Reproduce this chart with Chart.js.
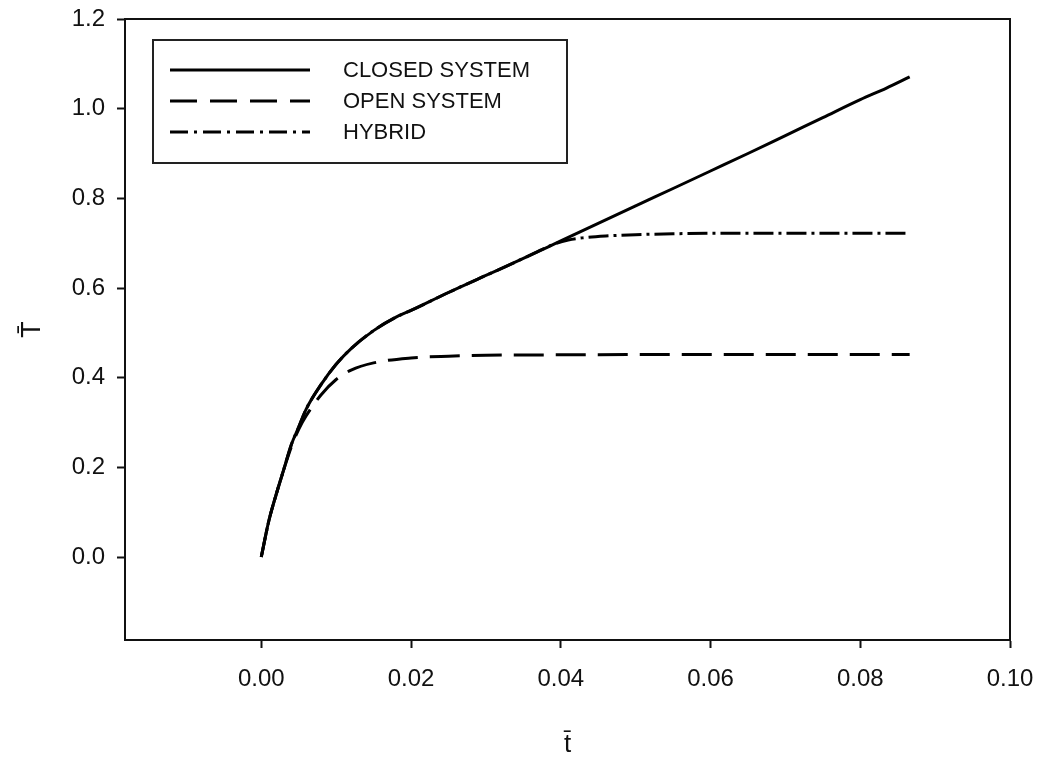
<!DOCTYPE html>
<html lang="en">
<head>
  <meta charset="UTF-8" />
  <title>T vs t</title>
  <script src="https://cdn.jsdelivr.net/npm/chart.js"></script>
  <style>
    html, body { margin: 0; padding: 0; background: #fff; }
    #wrap { width: 1037px; height: 772px; }
  </style>
</head>
<body>
  <div id="wrap"><canvas id="chart" width="1037" height="772"></canvas></div>
  <script>
    // valeurs
    const closedT = [0, 0.001, 0.002, 0.003, 0.004, 0.005, 0.006, 0.008, 0.010, 0.012, 0.015, 0.018, 0.020, 0.025, 0.030, 0.035, 0.040, 0.045, 0.050, 0.055, 0.060, 0.065, 0.070, 0.075, 0.080, 0.0835, 0.0866];
    const closedY = [0, 0.08, 0.14, 0.195, 0.25, 0.29, 0.33, 0.385, 0.43, 0.465, 0.505, 0.535, 0.55, 0.59, 0.628, 0.666, 0.705, 0.744, 0.783, 0.822, 0.861, 0.90, 0.94, 0.98, 1.02, 1.046, 1.071];

    const openT = [0, 0.001, 0.002, 0.003, 0.004, 0.005, 0.006, 0.008, 0.010, 0.012, 0.015, 0.020, 0.025, 0.030, 0.040, 0.060, 0.0866];
    const openY = [0, 0.08, 0.14, 0.195, 0.245, 0.285, 0.315, 0.362, 0.396, 0.417, 0.433, 0.444, 0.448, 0.45, 0.451, 0.452, 0.452];

    const hybridT = [0, 0.001, 0.002, 0.003, 0.004, 0.005, 0.006, 0.008, 0.010, 0.012, 0.015, 0.018, 0.020, 0.025, 0.030, 0.035, 0.039, 0.041, 0.043, 0.046, 0.050, 0.055, 0.060, 0.070, 0.0866];
    const hybridY = [0, 0.08, 0.14, 0.195, 0.25, 0.29, 0.33, 0.385, 0.43, 0.465, 0.505, 0.535, 0.55, 0.59, 0.628, 0.666, 0.697, 0.707, 0.712, 0.716, 0.719, 0.721, 0.722, 0.722, 0.722];

    const xTicks = [0, 0.02, 0.04, 0.06, 0.08, 0.10];
    const yTicks = [0, 0.2, 0.4, 0.6, 0.8, 1.0, 1.2];

    const labels = ['CLOSED SYSTEM', 'OPEN SYSTEM', 'HYBRID'];

    const pts = (xs, ys) => xs.map((x, i) => ({ x: x, y: ys[i] }));
    const FONT = 'Arial, "Liberation Sans", sans-serif';

    // cadre haut + droite
    const framePlugin = {
      id: 'frame',
      afterDraw(chart) {
        const { ctx, chartArea: a } = chart;
        ctx.save();
        ctx.strokeStyle = '#111';
        ctx.lineWidth = 2;
        ctx.beginPath();
        ctx.moveTo(a.left, a.top);
        ctx.lineTo(a.right, a.top);
        ctx.lineTo(a.right, a.bottom);
        ctx.stroke();
        ctx.restore();
      }
    };

    // légende encadrée
    const legendPlugin = {
      id: 'boxLegend',
      afterDraw(chart) {
        const { ctx, chartArea: a } = chart;
        const x0 = a.left + 28, y0 = a.top + 21, w = 414, h = 123;
        ctx.save();
        ctx.strokeStyle = '#222';
        ctx.lineWidth = 2;
        ctx.strokeRect(x0, y0, w, h);
        ctx.font = '22px ' + FONT;
        ctx.textBaseline = 'middle';
        ctx.fillStyle = '#111';
        chart.data.datasets.forEach((ds, i) => {
          const y = y0 + 30 + i * 31;
          ctx.setLineDash(ds.legendDash || []);
          ctx.lineWidth = 3;
          ctx.strokeStyle = '#000';
          ctx.beginPath();
          ctx.moveTo(x0 + 17, y);
          ctx.lineTo(x0 + 157, y);
          ctx.stroke();
          ctx.setLineDash([]);
          ctx.fillText(ds.label, x0 + 190, y + 1);
        });
        ctx.restore();
      }
    };

    const lineStyle = { showLine: true, pointRadius: 0, borderWidth: 3, borderColor: '#000', fill: false, cubicInterpolationMode: 'monotone' };

    new Chart(document.getElementById('chart'), {
      type: 'scatter',
      data: {
        datasets: [
          Object.assign({ label: labels[0], data: pts(closedT, closedY), legendDash: [] }, lineStyle),
          Object.assign({ label: labels[1], data: pts(openT, openY), borderDash: [30, 12], legendDash: [27, 13] }, lineStyle),
          Object.assign({ label: labels[2], data: pts(hybridT, hybridY), borderDash: [20, 5, 3, 5], legendDash: [18, 6, 3, 6] }, lineStyle)
        ]
      },
      options: {
        responsive: false,
        animation: false,
        layout: { padding: { top: 19, right: 27, left: 0, bottom: 0 } },
        plugins: { legend: { display: false }, tooltip: { enabled: false } },
        scales: {
          x: {
            type: 'linear',
            min: -0.0182,
            max: 0.1,
            afterFit: s => { s.height = 132; s.paddingLeft = 0; s.paddingRight = 0; },
            afterBuildTicks: s => { s.ticks = xTicks.map(v => ({ value: v })); },
            grid: { display: true, drawOnChartArea: false, drawTicks: true, tickLength: 8, tickColor: '#111', tickWidth: 2 },
            border: { display: true, color: '#111', width: 2 },
            ticks: { color: '#111', font: { family: FONT, size: 24 }, padding: 17, maxRotation: 0, callback: v => Number(v).toFixed(2) },
            title: { display: true, text: 't\u0304', color: '#111', font: { family: FONT, size: 26 }, padding: { bottom: 12 } }
          },
          y: {
            type: 'linear',
            min: -0.185,
            max: 1.2,
            afterFit: s => { s.width = 125; s.paddingTop = 0; s.paddingBottom = 0; },
            afterBuildTicks: s => { s.ticks = yTicks.map(v => ({ value: v })); },
            grid: { display: true, drawOnChartArea: false, drawTicks: true, tickLength: 8, tickColor: '#111', tickWidth: 2 },
            border: { display: true, color: '#111', width: 2 },
            ticks: { color: '#111', font: { family: FONT, size: 24 }, padding: 12, callback: v => Number(v).toFixed(1) },
            title: { display: true, text: 'T\u0304', color: '#111', font: { family: FONT, size: 27 }, padding: { top: 16 } }
          }
        }
      },
      plugins: [framePlugin, legendPlugin]
    });
  </script>
</body>
</html>
